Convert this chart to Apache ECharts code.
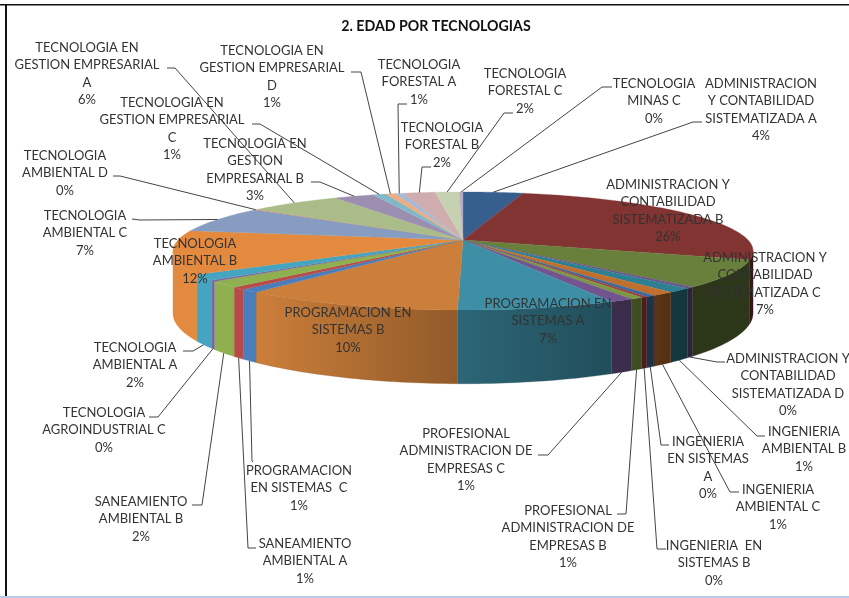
<!DOCTYPE html>
<html>
<head>
<meta charset="utf-8">
<title>Edad por tecnologias</title>
<script src="https://cdn.jsdelivr.net/npm/echarts@6/dist/echarts.min.js"></script>
<style>
html,body{margin:0;padding:0;background:#fff}
#chart{width:849px;height:598px}
</style>
</head>
<body>
<div id="chart"></div>
<script>
// line breaks are the ones the chart labels use
var categories = [
  'ADMINISTRACION\nY CONTABILIDAD\nSISTEMATIZADA A',
  'ADMINISTRACION Y\nCONTABILIDAD\nSISTEMATIZADA B',
  'ADMINISTRACION Y\nCONTABILIDAD\nSISTEMATIZADA C',
  'ADMINISTRACION Y\nCONTABILIDAD\nSISTEMATIZADA D',
  'INGENIERIA\nAMBIENTAL B',
  'INGENIERIA\nAMBIENTAL C',
  'INGENIERIA\nEN SISTEMAS\nA',
  'INGENIERIA  EN\nSISTEMAS B',
  'PROFESIONAL\nADMINISTRACION DE\nEMPRESAS B',
  'PROFESIONAL\nADMINISTRACION DE\nEMPRESAS C',
  'PROGRAMACION EN\nSISTEMAS A',
  'PROGRAMACION EN\nSISTEMAS B',
  'PROGRAMACION\nEN SISTEMAS  C',
  'SANEAMIENTO\nAMBIENTAL A',
  'SANEAMIENTO\nAMBIENTAL B',
  'TECNOLOGIA\nAGROINDUSTRIAL C',
  'TECNOLOGIA\nAMBIENTAL A',
  'TECNOLOGIA\nAMBIENTAL B',
  'TECNOLOGIA\nAMBIENTAL C',
  'TECNOLOGIA\nAMBIENTAL D',
  'TECNOLOGIA EN\nGESTION EMPRESARIAL\nA',
  'TECNOLOGIA EN\nGESTION\nEMPRESARIAL B',
  'TECNOLOGIA EN\nGESTION EMPRESARIAL\nC',
  'TECNOLOGIA EN\nGESTION EMPRESARIAL\nD',
  'TECNOLOGIA\nFORESTAL A',
  'TECNOLOGIA\nFORESTAL B',
  'TECNOLOGIA\nFORESTAL C',
  'TECNOLOGIA\nMINAS C'
];
// percent of total, rounds to the printed labels
var values = [
  4.0, 26.3, 7.4, 0.4, 1.2, 1.1, 0.45, 0.3, 0.6, 1.1,
  7.4, 10.4, 0.9, 0.7, 1.7, 0.3, 1.6, 11.8, 7.3, 0.2,
  6.2, 2.6, 0.9, 0.6, 0.6, 2.1, 1.6, 0.25
];
var colors = [
  '#375F8E','#823432','#68803C','#6B5487','#2F7F93','#C0702C','#3C6A9E','#9A3E3B','#7D9845','#72548F',
  '#3E8FA6','#CC7F3A','#4A7EBB','#B84A47','#8FB04F','#7E649F','#45A5C0','#E48A3E','#869CC0','#C08A88',
  '#AABD89','#9C8EB0','#82B7C8','#EDAE7E','#A9B8D3','#CFACAD','#C5D1B0','#B5ACC9'
];

// label layout, same order as categories: text centre x, first line y, elbow x,y, line end x,y
var labelLayout = [
  [761, 83, 693,122, 702,122],
  [668,184],
  [765,257],
  [788,358, 717,362, 725,362],
  [804,431, 757,436, 765,436],
  [778,489, 730,492, 739,492],
  [708,441, 661,445, 669,445],
  [714,545, 657,549, 666,549],
  [568,510, 626,514, 617,514],
  [466,433, 548,455, 538,455],
  [548,303],
  [348,312],
  [299,470, 252,461, 253,462],
  [305,543, 248,548, 256,548],
  [141,501, 202,505, 192,505],
  [104,412, 158,417, 149,417],
  [135,347, 193,351, 183,351],
  [195,243],
  [ 85,215, 140,220, 132,219],
  [ 65,155, 120,176, 113,176],
  [ 87, 47, 175, 68, 167, 68],
  [255,143, 320,182, 311,182],
  [172,102, 260,124, 252,124],
  [272, 50, 361, 72, 351, 72],
  [419, 64, 398,104, 407,104],
  [442,127, 422,167, 431,167],
  [525, 73, 504,113, 513,113],
  [654, 83, 602, 87, 612, 87]
];

var total = values.reduce(function(a,b){return a+b},0);
var cum = [];
values.reduce(function(a,b,i){cum[i]=a;return a+b},0);

// tilted disc seen in perspective
var cx=463, cy=240, rx=285, ry=57, persp=0.186, depth=60;
var frontFrom = Math.acos(-persp), frontTo = 2*Math.PI-frontFrom;

function project(t){
  var k = 1/(1+persp*Math.cos(t));
  return {x:cx+rx*Math.sin(t)*k, y:cy-ry*Math.cos(t)*k, drop:depth*k};
}
function angle(v){ return v/total*2*Math.PI; }

// side wall gets darker towards the right
var shadeStops = [[260,1],[300,.93],[400,.8],[465,.7],[610,.55],[680,.42],[760,.42]];
function shadeAt(x){
  if(x<=shadeStops[0][0]) return shadeStops[0][1];
  for(var i=1;i<shadeStops.length;i++){
    if(x<=shadeStops[i][0]){
      var a=shadeStops[i-1], b=shadeStops[i];
      return a[1]+(b[1]-a[1])*(x-a[0])/(b[0]-a[0]);
    }
  }
  return shadeStops[shadeStops.length-1][1];
}
function shadeColor(hex,f){
  var n=parseInt(hex.slice(1),16);
  return 'rgb('+Math.round((n>>16&255)*f)+','+Math.round((n>>8&255)*f)+','+Math.round((n&255)*f)+')';
}

function arcPoints(a0,a1){
  var steps=Math.max(2,Math.ceil((a1-a0)/0.02)), pts=[];
  for(var i=0;i<=steps;i++) pts.push(project(a0+(a1-a0)*i/steps));
  return pts;
}

function renderSlice(params,api){
  var i=params.dataIndex, a0=angle(api.value(1)), a1=a0+angle(api.value(0));
  var children=[];
  var w0=Math.max(a0,frontFrom), w1=Math.min(a1,frontTo);
  if(w1>w0){
    var arc=arcPoints(w0,w1), poly=[], j;
    for(j=0;j<arc.length;j++) poly.push([arc[j].x,arc[j].y]);
    for(j=arc.length-1;j>=0;j--) poly.push([arc[j].x,arc[j].y+arc[j].drop]);
    var xa=arc[0].x, xb=arc[arc.length-1].x, c0=shadeColor(colors[i],shadeAt(xa)), c1=shadeColor(colors[i],shadeAt(xb));
    var fill=Math.abs(xb-xa)<1?c0:new echarts.graphic.LinearGradient(xa,0,xb,0,[{offset:0,color:c0},{offset:1,color:c1}],true);
    children.push({type:'polygon',shape:{points:poly},style:{fill:fill,stroke:c0,lineWidth:.3}});
  }
  var top=[[cx,cy]];
  arcPoints(a0,a1).forEach(function(p){top.push([p.x,p.y])});
  children.push({type:'polygon',shape:{points:top},style:{fill:colors[i],stroke:colors[i],lineWidth:.3}});
  return {type:'group',children:children};
}

function renderLabel(params,api){
  var i=params.dataIndex, lay=labelLayout[i], children=[];
  if(lay.length>2){
    var p=project(angle(api.value(1)+api.value(0)/2));
    var isFront=Math.cos(angle(api.value(1)+api.value(0)/2))<-persp;
    children.push({type:'polyline',shape:{points:[[p.x,isFront?p.y+p.drop:p.y],[lay[2],lay[3]],[lay[4],lay[5]]]},
      style:{fill:'none',stroke:'#444',lineWidth:1}});
  }
  children.push({type:'text',style:{
    text:categories[i]+'\n'+Math.round(api.value(0)/total*100)+'%',
    x:lay[0],y:lay[1]-8,align:'center',verticalAlign:'top',
    font:'13px Lato',lineHeight:17.4,fill:'#333'}});
  return {type:'group',children:children};
}

var sliceData = values.map(function(v,i){return {name:categories[i].replace(/\n/g,' '),value:[v,cum[i]]}});

var chart = echarts.init(document.getElementById('chart'),null,{renderer:'canvas'});
chart.setOption({
  backgroundColor:'#fff',
  animation:false,
  title:{
    text:'2. EDAD POR TECNOLOGIAS',
    left:431,top:14,textAlign:'center',
    textStyle:{fontFamily:'Lato',fontSize:14.2,fontWeight:'bold',color:'#111'}
  },
  graphic:[
    {type:'rect',shape:{x:0,y:4,width:849,height:1.5},style:{fill:'#111'},silent:true},
    {type:'rect',shape:{x:5,y:4,width:2,height:593},style:{fill:'#111'},silent:true},
    {type:'rect',shape:{x:0,y:596,width:849,height:2},style:{fill:'#B8CCE4'},silent:true}
  ],
  series:[
    {type:'custom',coordinateSystem:'none',renderItem:renderSlice,data:sliceData,silent:true,z:2},
    {type:'custom',coordinateSystem:'none',renderItem:renderLabel,data:sliceData,silent:true,z:5}
  ]
});
</script>
</body>
</html>
